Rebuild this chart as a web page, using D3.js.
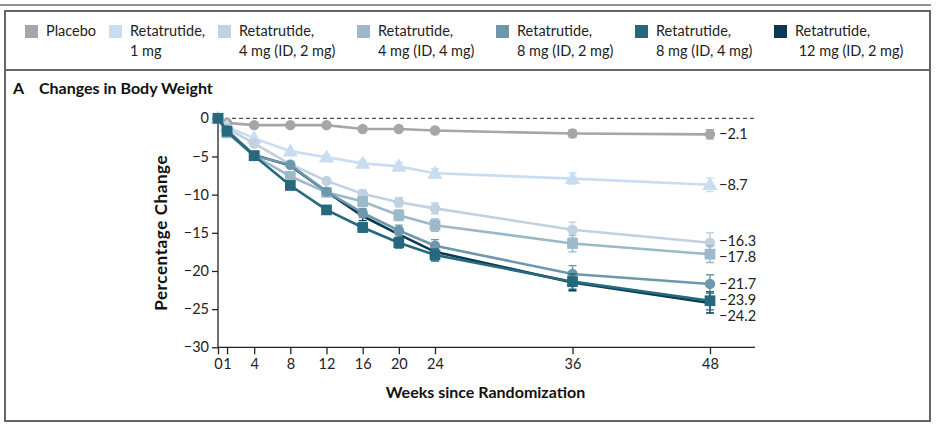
<!DOCTYPE html>
<html>
<head>
<meta charset="utf-8">
<script src="https://cdn.jsdelivr.net/npm/d3@7"></script>
<style>
  body { margin: 0; background: #fff; }
  svg { display: block; font-family: Lato, "Noto Sans", sans-serif; }
</style>
</head>
<body>
<svg id="chart" width="938" height="426"></svg>
<script>
// Body weight change by week
const weeks = [0, 1, 4, 8, 12, 16, 20, 24, 36, 48];
const xTicks = [0, 1, 4, 8, 12, 16, 20, 24, 36, 48];
const yTicks = [0, -5, -10, -15, -20, -25, -30];

const seriesNames = ["Placebo", "Retatrutide,|1 mg", "Retatrutide,|4 mg (ID, 2 mg)", "Retatrutide,|4 mg (ID, 4 mg)",
    "Retatrutide,|8 mg (ID, 2 mg)", "Retatrutide,|8 mg (ID, 4 mg)", "Retatrutide,| 12 mg (ID, 2 mg)"];
const seriesColors = ["#a6a6a9", "#c9ddf2", "#c1d1df", "#9cb9c9", "#6c97ac", "#26687e", "#083a53"];
const seriesShapes = ["circle", "triangle", "circle", "square", "circle", "square", "none"];

const placebo = [0, -0.6, -0.9, -0.9, -0.9, -1.4, -1.4, -1.6, -2.0, -2.1];
const mg1 = [0, -1.1, -2.6, -4.3, -5.1, -5.9, -6.3, -7.2, -7.9, -8.7];
const mg4id2 = [0, -1.3, -3.3, -6.0, -8.2, -9.9, -11.0, -11.8, -14.6, -16.3];
const mg4id4 = [0, -1.9, -4.9, -7.6, -9.7, -10.9, -12.7, -14.0, -16.4, -17.8];
const mg8id2 = [0, -1.5, -4.9, -6.1, -9.6, -12.4, -14.7, -16.7, -20.4, -21.7];
const mg8id4 = [0, -1.7, -4.9, -8.8, -12.0, -14.3, -16.3, -17.9, -21.4, -23.9];
const mg12id2 = [0, -1.6, -4.8, -6.2, -9.6, -12.8, -15.2, -17.5, -21.5, -24.2];

const errPlacebo = [0, 0, 0, 0, 0, 0.3, 0.3, 0.4, 0.5, 0.6];
const err1 = [0, 0, 0, 0, 0.3, 0.4, 0.5, 0.6, 0.7, 0.9];
const err4id2 = [0, 0, 0, 0, 0.3, 0.5, 0.6, 0.7, 1.0, 1.3];
const err4id4 = [0, 0, 0, 0, 0.4, 0.6, 0.7, 0.8, 1.1, 1.1];
const err8id2 = [0, 0, 0, 0, 0.4, 0.6, 0.7, 0.8, 1.1, 1.2];
const err8id4 = [0, 0, 0, 0, 0.4, 0.6, 0.7, 0.8, 1.0, 1.2];
const err12id2 = [0, 0, 0, 0, 0.4, 0.6, 0.7, 0.8, 1.1, 1.3];

const seriesValues = [placebo, mg1, mg4id2, mg4id4, mg8id2, mg8id4, mg12id2];
const seriesErrors = [errPlacebo, err1, err4id2, err4id4, err8id2, err8id4, err12id2];
const endLabels = ["−2.1", "−8.7", "−16.3", "−17.8", "−21.7", "−23.9", "−24.2"];

const svg = d3.select("#chart");

// frame: top rule, legend box, panel box
svg.append("line").attr("x1", 0).attr("x2", 931).attr("y1", 5).attr("y2", 5)
    .attr("stroke", "#222").attr("stroke-width", 1.2);
svg.append("rect").attr("x", 5).attr("y", 11).attr("width", 925).attr("height", 59)
    .attr("fill", "none").attr("stroke", "#666").attr("stroke-width", 2);
svg.append("path").attr("d", "M5,70 V421 H930 V70")
    .attr("fill", "none").attr("stroke", "#666").attr("stroke-width", 2);

// legend
const legendX = [25, 109, 218, 357, 496, 635, 774];
const legend = svg.append("g").attr("font-size", 14.5).attr("fill", "#222");
seriesNames.forEach((name, i) => {
    const g = legend.append("g").attr("transform", `translate(${legendX[i]},0)`);
    g.append("rect").attr("x", 0).attr("y", 25).attr("width", 13).attr("height", 13).attr("fill", seriesColors[i]);
    name.split("|").forEach((line, j) => {
        g.append("text").attr("x", 21).attr("y", 36 + j * 20).attr("xml:space", "preserve").text(line);
    });
});

// panel title
const title = svg.append("text").attr("x", 13).attr("y", 94).attr("font-size", 16).attr("font-weight", "bold").attr("fill", "#111");
title.append("tspan").text("A");
title.append("tspan").attr("x", 39).text("Changes in Body Weight");

// scales: the figure's x axis stretches after week 24
const x = d3.scaleLinear().domain([0, 24, 48]).range([218, 435, 710]);
const y = d3.scaleLinear().domain([0, -30]).range([118.3, 347.3]);
const axisRight = 755;

// zero reference line
svg.append("line").attr("x1", x(0)).attr("x2", axisRight).attr("y1", y(0)).attr("y2", y(0))
    .attr("stroke", "#222").attr("stroke-width", 1).attr("stroke-dasharray", "4,3");

// axes
const yAxis = svg.append("g").attr("transform", `translate(${x(0)},0)`)
    .call(d3.axisLeft(y).tickValues(yTicks).tickSize(6).tickSizeOuter(0).tickFormat(d => d === 0 ? "0" : "−" + Math.abs(d)));
yAxis.select(".domain").attr("d", `M0,${y(0)}V${y(-30)}`);
const xAxis = svg.append("g").attr("transform", `translate(0,${y(-30)})`)
    .call(d3.axisBottom(x).tickValues(xTicks).tickSize(7).tickSizeOuter(0).tickFormat(d3.format("d")));
xAxis.select(".domain").attr("d", `M${x(0)},0H${axisRight}`);
[yAxis, xAxis].forEach(a => {
    a.selectAll("path, line").attr("stroke", "#222").attr("stroke-width", 1.3);
    a.selectAll("text").attr("font-size", 14.5).attr("fill", "#222").attr("font-family", "Lato, sans-serif");
});
yAxis.selectAll("text").attr("x", -9);
xAxis.selectAll("text").attr("y", 11);

svg.append("text").attr("transform", `translate(167,${(y(0) + y(-30)) / 2}) rotate(-90)`)
    .attr("text-anchor", "middle").attr("font-size", 17).attr("font-weight", "bold").attr("fill", "#111")
    .attr("letter-spacing", 0.6).text("Percentage Change");
svg.append("text").attr("x", (x(0) + axisRight) / 2 - 1).attr("y", 398)
    .attr("text-anchor", "middle").attr("font-size", 16).attr("font-weight", "bold").attr("fill", "#111")
    .text("Weeks since Randomization");

// series, drawn darkest-dose line first so the others sit on top
const order = [6, 0, 1, 2, 3, 4, 5];
const line = d3.line().x(d => x(d.w)).y(d => y(d.v));
const plot = svg.append("g");

order.forEach(i => {
    const pts = weeks.map((w, k) => ({ w, v: seriesValues[i][k], e: seriesErrors[i][k] }));
    const color = seriesColors[i];
    const g = plot.append("g");
    g.append("path").datum(pts).attr("d", line).attr("fill", "none")
        .attr("stroke", color).attr("stroke-width", 2.6);
    pts.filter(p => p.e > 0).forEach(p => {
        const cx = x(p.w), y1 = y(p.v - p.e), y2 = y(p.v + p.e);
        g.append("path").attr("d", `M${cx},${y1}V${y2}M${cx - 4},${y1}H${cx + 4}M${cx - 4},${y2}H${cx + 4}`)
            .attr("stroke", color).attr("stroke-width", 1.4).attr("fill", "none");
    });
    const shape = seriesShapes[i];
    if (shape === "none") return;
    const sym = shape === "circle" ? d3.symbolCircle : shape === "square" ? d3.symbolSquare : d3.symbolTriangle;
    const size = shape === "circle" ? 85 : shape === "square" ? 115 : 100;
    g.selectAll("path.pt").data(pts).join("path").attr("class", "pt")
        .attr("transform", d => `translate(${x(d.w)},${y(d.v) + (shape === "triangle" ? 1 : 0)})`)
        .attr("d", d3.symbol(sym, size)).attr("fill", color);
});

// end-of-study labels; crowded ones are nudged apart as in the figure
const labelNudge = [0, 0, -2, 3, 0, -1, 13];
const labels = svg.append("g").attr("font-size", 14.5).attr("fill", "#222");
seriesValues.forEach((vals, i) => {
    labels.append("text").attr("x", x(48) + 9).attr("y", y(vals[vals.length - 1]) + 5 + labelNudge[i])
        .text(endLabels[i]);
});
</script>
</body>
</html>
